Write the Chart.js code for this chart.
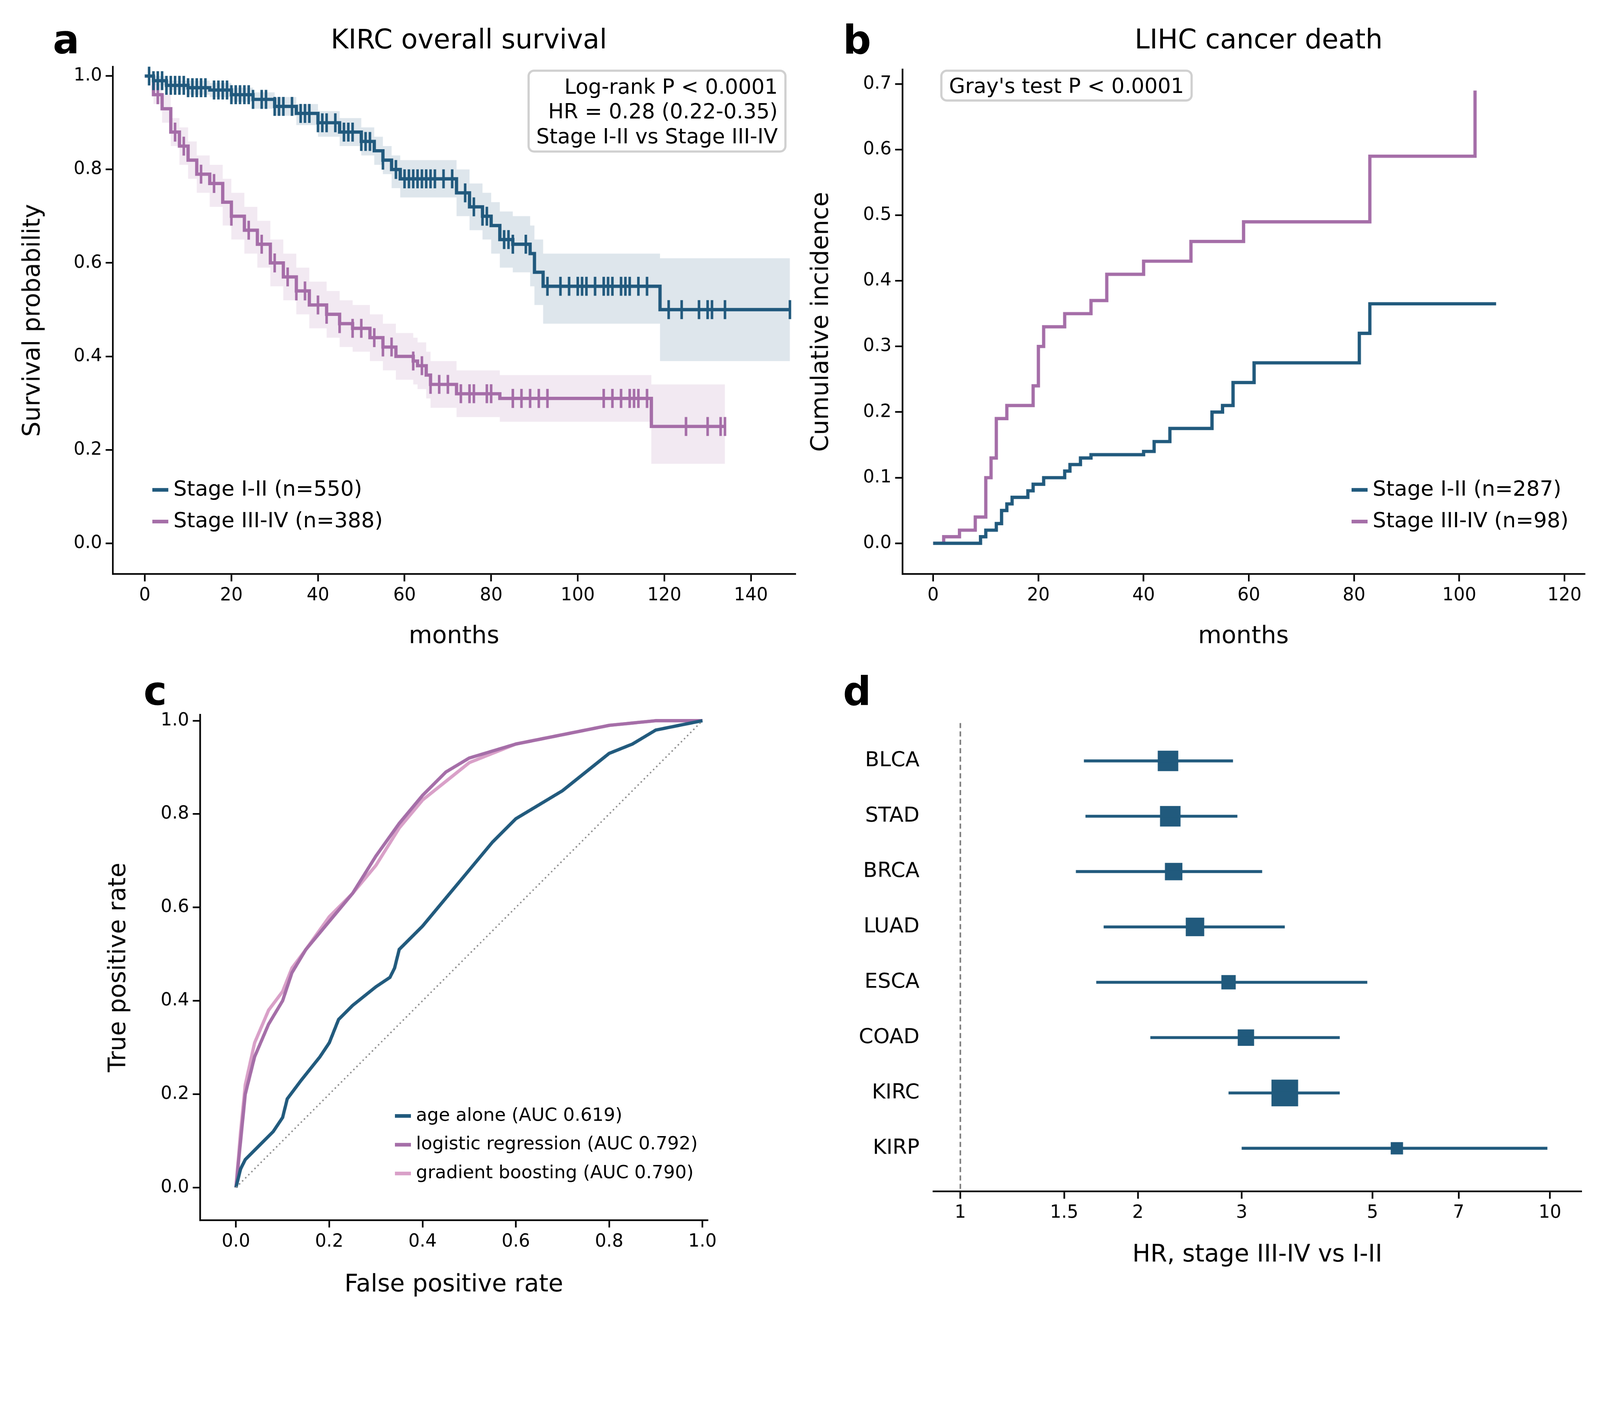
<!DOCTYPE html>
<html>
<head>
<meta charset="utf-8">
<script src="https://cdn.jsdelivr.net/npm/chart.js@4"></script>
<style>
  html, body { margin: 0; padding: 0; background: #fff; overflow: hidden; }
  #root { position: absolute; left: 0; top: 0; width: 4392px; height: 3613px; transform-origin: 0 0; font-family: "DejaVu Sans", sans-serif; }
  canvas { position: absolute; }
  .t { position: absolute; color: #000; white-space: nowrap; }
  .letter { font-weight: bold; font-size: 108px; line-height: 110px; }
  .title { font-size: 74px; line-height: 80px; transform: translateX(-50%); }
  .box { position: absolute; border: 6px solid #d0d0d0; border-radius: 18px; background: #fff; font-size: 57px; line-height: 68px; padding: 6px 18px; white-space: nowrap; }
  .leg { position: absolute; font-size: 58px; line-height: 87px; white-space: nowrap; }
  .leg span.sw { display: inline-block; width: 44px; height: 10px; margin-right: 14px; vertical-align: middle; }
  .legs { font-size: 50px; line-height: 79px; }
  .legs span.sw { width: 44px; height: 10px; }
</style>
</head>
<body>
<div id="root">
<canvas id="ca"></canvas>
<canvas id="cb"></canvas>
<canvas id="cc"></canvas>
<canvas id="cd"></canvas>

<div class="t letter" style="left:145px;top:55px">a</div>
<div class="t letter" style="left:2314px;top:55px">b</div>
<div class="t letter" style="left:394px;top:1843px">c</div>
<div class="t letter" style="left:2314px;top:1843px">d</div>
<div class="t title" style="left:1287px;top:67px">KIRC overall survival</div>
<div class="t title" style="left:3455px;top:67px">LIHC cancer death</div>

<div class="box" style="right:2233px;top:191px;text-align:right">Log-rank P &lt; 0.0001<br>HR = 0.28 (0.22-0.35)<br>Stage I-II vs Stage III-IV</div>
<div class="box" style="left:2581px;top:191px;padding:4px 18px">Gray's test P &lt; 0.0001</div>

<div class="leg" style="left:418px;top:1298px">
  <div><span class="sw" style="background:#215a7d"></span>Stage I-II (n=550)</div>
  <div><span class="sw" style="background:#a56ea8"></span>Stage III-IV (n=388)</div>
</div>
<div class="leg" style="left:3710px;top:1298px">
  <div><span class="sw" style="background:#215a7d"></span>Stage I-II (n=287)</div>
  <div><span class="sw" style="background:#a56ea8"></span>Stage III-IV (n=98)</div>
</div>
<div class="leg legs" style="left:1084px;top:3021px">
  <div><span class="sw" style="background:#215a7d"></span>age alone (AUC 0.619)</div>
  <div><span class="sw" style="background:#a56ea8"></span>logistic regression (AUC 0.792)</div>
  <div><span class="sw" style="background:#d9a0c8"></span>gradient boosting (AUC 0.790)</div>
</div>
</div>

<script>
// ---- panel a: KIRC Kaplan-Meier ----
const kmEarlyT = [0, 2, 5, 10, 15, 20, 25, 30, 35, 40, 45, 50, 53, 55, 57, 59, 70, 72, 75, 78, 80, 82, 85, 89, 90, 92, 118, 119, 149];
const kmEarlyS = [1.0, 0.99, 0.98, 0.975, 0.97, 0.96, 0.95, 0.935, 0.92, 0.90, 0.88, 0.86, 0.84, 0.82, 0.80, 0.78, 0.78, 0.75, 0.72, 0.70, 0.68, 0.65, 0.64, 0.62, 0.58, 0.55, 0.55, 0.50, 0.50];
const kmEarlyLo = [1.0, 0.98, 0.97, 0.96, 0.955, 0.945, 0.93, 0.915, 0.895, 0.87, 0.85, 0.83, 0.81, 0.79, 0.76, 0.74, 0.74, 0.70, 0.67, 0.65, 0.62, 0.59, 0.58, 0.55, 0.51, 0.47, 0.47, 0.39, 0.39];
const kmEarlyHi = [1.0, 1.0, 0.99, 0.99, 0.985, 0.975, 0.965, 0.955, 0.94, 0.925, 0.91, 0.89, 0.87, 0.85, 0.83, 0.82, 0.82, 0.80, 0.77, 0.75, 0.73, 0.71, 0.70, 0.68, 0.65, 0.62, 0.62, 0.61, 0.61];
const kmEarlyCens = [1, 2, 3, 4, 5, 6, 7, 8, 9, 10, 11, 12, 13, 14, 16, 17, 18, 19, 20, 21, 22, 23, 24, 25, 27, 28, 30, 31, 32, 34, 36, 37, 38, 40, 41, 42, 44, 46, 47, 48, 50, 51, 52, 55, 58, 60, 61, 62, 63, 64, 65, 66, 67, 69, 71, 74, 76, 78, 79, 83, 84, 85, 88, 93, 96, 98, 100, 101, 102, 104, 106, 107, 108, 110, 111, 112, 114, 116, 121, 124, 128, 130, 131, 134, 149];

const kmLateT = [0, 2, 4, 6, 8, 10, 12, 15, 18, 20, 23, 26, 29, 32, 35, 38, 42, 45, 48, 52, 55, 58, 62, 63, 65, 66, 70, 72, 80, 82, 116, 117, 134];
const kmLateS = [1.0, 0.96, 0.93, 0.88, 0.85, 0.82, 0.79, 0.77, 0.73, 0.70, 0.67, 0.64, 0.60, 0.57, 0.54, 0.51, 0.49, 0.47, 0.46, 0.44, 0.42, 0.40, 0.39, 0.38, 0.36, 0.34, 0.34, 0.32, 0.32, 0.31, 0.31, 0.25, 0.25];
const kmLateLo = [1.0, 0.94, 0.90, 0.85, 0.81, 0.78, 0.75, 0.72, 0.68, 0.65, 0.62, 0.59, 0.55, 0.52, 0.49, 0.46, 0.44, 0.42, 0.41, 0.39, 0.37, 0.35, 0.34, 0.33, 0.31, 0.29, 0.29, 0.27, 0.27, 0.26, 0.26, 0.17, 0.17];
const kmLateHi = [1.0, 0.98, 0.96, 0.91, 0.89, 0.86, 0.83, 0.81, 0.78, 0.75, 0.72, 0.69, 0.65, 0.62, 0.59, 0.56, 0.54, 0.52, 0.51, 0.49, 0.47, 0.45, 0.44, 0.43, 0.41, 0.39, 0.39, 0.37, 0.37, 0.36, 0.36, 0.34, 0.34];
const kmLateCens = [3, 7, 9, 13, 16, 20, 24, 27, 30, 33, 35, 37, 40, 42, 45, 48, 50, 53, 55, 57, 62, 64, 66, 68, 70, 73, 75, 76, 79, 80, 85, 87, 89, 91, 93, 106, 108, 110, 112, 113, 114, 116, 125, 130, 133, 134];

// ---- panel b: LIHC cumulative incidence ----
const ciEarlyT = [0, 9, 10, 12, 13, 14, 15, 18, 19, 21, 25, 26, 28, 30, 40, 42, 45, 53, 55, 57, 61, 81, 83, 107];
const ciEarlyV = [0, 0.01, 0.02, 0.03, 0.05, 0.06, 0.07, 0.08, 0.09, 0.10, 0.11, 0.12, 0.13, 0.135, 0.14, 0.155, 0.175, 0.20, 0.21, 0.245, 0.275, 0.32, 0.365, 0.365];
const ciLateT = [0, 2, 5, 8, 10, 11, 12, 14, 19, 20, 21, 25, 30, 33, 40, 49, 59, 83, 103];
const ciLateV = [0, 0.01, 0.02, 0.04, 0.10, 0.13, 0.19, 0.21, 0.24, 0.30, 0.33, 0.35, 0.37, 0.41, 0.43, 0.46, 0.49, 0.59, 0.69];

// ---- panel c: ROC ----
const rocAgeFpr = [0, 0.01, 0.02, 0.05, 0.08, 0.10, 0.11, 0.14, 0.18, 0.20, 0.22, 0.25, 0.30, 0.33, 0.34, 0.35, 0.40, 0.45, 0.50, 0.55, 0.60, 0.65, 0.70, 0.75, 0.80, 0.85, 0.90, 0.95, 1.0];
const rocAgeTpr = [0, 0.04, 0.06, 0.09, 0.12, 0.15, 0.19, 0.23, 0.28, 0.31, 0.36, 0.39, 0.43, 0.45, 0.47, 0.51, 0.56, 0.62, 0.68, 0.74, 0.79, 0.82, 0.85, 0.89, 0.93, 0.95, 0.98, 0.99, 1.0];
const rocLrFpr = [0, 0.01, 0.02, 0.04, 0.07, 0.10, 0.12, 0.15, 0.20, 0.25, 0.30, 0.35, 0.40, 0.45, 0.50, 0.60, 0.70, 0.80, 0.90, 1.0];
const rocLrTpr = [0, 0.10, 0.20, 0.28, 0.35, 0.40, 0.46, 0.51, 0.57, 0.63, 0.71, 0.78, 0.84, 0.89, 0.92, 0.95, 0.97, 0.99, 1.0, 1.0];
const rocGbFpr = [0, 0.01, 0.02, 0.04, 0.07, 0.10, 0.12, 0.15, 0.20, 0.25, 0.30, 0.35, 0.40, 0.45, 0.50, 0.60, 0.70, 0.80, 0.90, 1.0];
const rocGbTpr = [0, 0.12, 0.22, 0.31, 0.38, 0.42, 0.47, 0.51, 0.58, 0.63, 0.69, 0.77, 0.83, 0.87, 0.91, 0.95, 0.97, 0.99, 1.0, 1.0];

// ---- panel d: forest ----
const cancers = ['BLCA', 'STAD', 'BRCA', 'LUAD', 'ESCA', 'COAD', 'KIRC', 'KIRP'];
const hr = [2.25, 2.27, 2.3, 2.5, 2.85, 3.05, 3.55, 5.5];
const hrLo = [1.62, 1.63, 1.57, 1.75, 1.7, 2.1, 2.85, 3.0];
const hrHi = [2.9, 2.95, 3.25, 3.55, 4.9, 4.4, 4.4, 9.9];
const weight = [20, 20, 17, 18, 14, 16, 26, 12];
const hrTicks = [1, 1.5, 2, 3, 5, 7, 10];

const BLUE = '#215a7d', PURPLE = '#a56ea8', PINK = '#d9a0c8';
const FONT = 'DejaVu Sans';
const TICK = 49, ATITLE = 66, LW = 9;

// fit the 4392x3613 design into whatever css viewport we get
const S = window.innerWidth / 4392;
document.getElementById('root').style.transform = 'scale(' + S + ')';
const DPR = Math.max(1 / S, window.devicePixelRatio || 1);

function stepAt(ts, vs, t) {
  let v = vs[0];
  for (let i = 0; i < ts.length; i++) if (ts[i] <= t) v = vs[i];
  return v;
}
const pts = (xs, ys) => xs.map((x, i) => ({ x: x, y: ys[i] }));

function place(id, cl, ct, cw, ch) {
  const c = document.getElementById(id);
  c.style.left = cl + 'px'; c.style.top = ct + 'px';
  c.style.width = cw + 'px'; c.style.height = ch + 'px';
  c.width = cw; c.height = ch;
  return c;
}

function axis(extra, fitW, fitH) {
  const a = Object.assign({
    border: { display: true, color: '#000', width: 4.5 },
    grid: { drawOnChartArea: false, drawTicks: true, tickLength: 20, color: '#000', lineWidth: 4.5 },
    ticks: { color: '#000', font: { family: FONT, size: TICK }, padding: 10 },
  }, extra);
  if (fitW) a.afterFit = s => { s.width = fitW; };
  if (fitH) a.afterFit = s => { s.height = fitH; };
  return a;
}
const atitle = (t) => ({ display: true, text: t, color: '#000', font: { family: FONT, size: ATITLE }, padding: 2 });
const oneDec = { color: '#000', font: { family: FONT, size: TICK }, padding: 10, callback: v => v.toFixed(1) };

function base(padTop, padRight) {
  return {
    responsive: false, animation: false, devicePixelRatio: DPR,
    layout: { padding: { top: padTop, right: padRight, left: 0, bottom: 0 } },
    plugins: { legend: { display: false }, tooltip: { enabled: false } },
  };
}

function kmDatasets(ts, s, lo, hi, cens, col, fill) {
  return [
    { data: pts(ts, lo), stepped: 'before', borderWidth: 0, pointRadius: 0, fill: false },
    { data: pts(ts, hi), stepped: 'before', borderWidth: 0, pointRadius: 0, fill: '-1', backgroundColor: fill },
    { data: pts(ts, s), stepped: 'before', borderColor: col, borderWidth: LW, pointRadius: 0, fill: false },
    { type: 'scatter', data: cens.map(t => ({ x: t, y: stepAt(ts, s, t) })), pointStyle: 'line', rotation: 90,
      radius: 26, borderColor: col, borderWidth: 7 },
  ];
}

// panel a: chart area 310..2182 x 183..1576
{
  const cl = 50, ct = 0, cw = 2250, ch = 1790;
  place('ca', cl, ct, cw, ch);
  new Chart('ca', {
    type: 'line',
    data: { datasets: [
      ...kmDatasets(kmEarlyT, kmEarlyS, kmEarlyLo, kmEarlyHi, kmEarlyCens, BLUE, 'rgba(33,90,125,0.15)'),
      ...kmDatasets(kmLateT, kmLateS, kmLateLo, kmLateHi, kmLateCens, PURPLE, 'rgba(165,110,168,0.15)'),
    ] },
    options: Object.assign(base(183 - ct, cl + cw - 2182), {
      scales: {
        x: axis({ type: 'linear', min: -7.35, max: 150.2, title: atitle('months'),
          afterBuildTicks: a => { a.ticks = [0, 20, 40, 60, 80, 100, 120, 140].map(v => ({ value: v })); } }, null, ct + ch - 1576),
        y: axis({ type: 'linear', min: -0.066, max: 1.02, title: atitle('Survival probability'),
          afterBuildTicks: a => { a.ticks = [0, 0.2, 0.4, 0.6, 0.8, 1.0].map(v => ({ value: v })); },
          ticks: oneDec }, 310 - cl),
      },
    }),
  });
}

// panel b: chart area 2477..4349 x 191..1576
{
  const cl = 2214, ct = 0, cw = 2178, ch = 1790;
  place('cb', cl, ct, cw, ch);
  new Chart('cb', {
    type: 'line',
    data: { datasets: [
      { data: pts(ciEarlyT, ciEarlyV), stepped: 'before', borderColor: BLUE, borderWidth: LW, pointRadius: 0 },
      { data: pts(ciLateT, ciLateV), stepped: 'before', borderColor: PURPLE, borderWidth: LW, pointRadius: 0 },
    ] },
    options: Object.assign(base(191 - ct, cl + cw - 4349), {
      scales: {
        x: axis({ type: 'linear', min: -5.85, max: 123.8, title: atitle('months'),
          afterBuildTicks: a => { a.ticks = [0, 20, 40, 60, 80, 100, 120].map(v => ({ value: v })); } }, null, ct + ch - 1576),
        y: axis({ type: 'linear', min: -0.047, max: 0.722, title: atitle('Cumulative incidence'),
          afterBuildTicks: a => { a.ticks = [0, 0.1, 0.2, 0.3, 0.4, 0.5, 0.6, 0.7].map(v => ({ value: v })); },
          ticks: oneDec }, 2477 - cl),
      },
    }),
  });
}

// panel c: chart area 549..1942 x 1962..3350
{
  const cl = 285, ct = 1850, cw = 1915, ch = 3570 - 1850;
  place('cc', cl, ct, cw, ch);
  new Chart('cc', {
    type: 'line',
    data: { datasets: [
      { data: [{ x: 0, y: 0 }, { x: 1, y: 1 }], borderColor: '#888', borderWidth: 4, borderDash: [4, 8], pointRadius: 0 },
      { data: pts(rocAgeFpr, rocAgeTpr), borderColor: BLUE, borderWidth: LW, pointRadius: 0 },
      { data: pts(rocLrFpr, rocLrTpr), borderColor: PURPLE, borderWidth: LW, pointRadius: 0 },
      { data: pts(rocGbFpr, rocGbTpr), borderColor: PINK, borderWidth: LW, pointRadius: 0 },
    ] },
    options: Object.assign(base(1962 - ct, cl + cw - 1942), {
      scales: {
        x: axis({ type: 'linear', min: -0.077, max: 1.011, title: atitle('False positive rate'),
          afterBuildTicks: a => { a.ticks = [0, 0.2, 0.4, 0.6, 0.8, 1.0].map(v => ({ value: v })); },
          ticks: oneDec }, null, ct + ch - 3350),
        y: axis({ type: 'linear', min: -0.07, max: 1.013, title: atitle('True positive rate'),
          afterBuildTicks: a => { a.ticks = [0, 0.2, 0.4, 0.6, 0.8, 1.0].map(v => ({ value: v })); },
          ticks: oneDec }, 549 - cl),
      },
    }),
  });
}

// panel d: chart area 2562..4349 x 1985..3271
{
  const cl = 2200, ct = 1850, cw = 2192, ch = 3488 - 1850;
  place('cd', cl, ct, cw, ch);
  const bars = [];
  cancers.forEach((c, i) => { bars.push({ x: hrLo[i], y: i }, { x: hrHi[i], y: i }, { x: null, y: null }); });
  new Chart('cd', {
    type: 'line',
    data: { datasets: [
      { data: [{ x: 1, y: -0.685 }, { x: 1, y: 7.78 }], borderColor: '#777', borderWidth: 4, borderDash: [14, 9], pointRadius: 0 },
      { data: bars, borderColor: BLUE, borderWidth: 8, pointRadius: 0, spanGaps: false },
      { type: 'scatter', data: hr.map((h, i) => ({ x: h, y: i })), pointStyle: 'rect', backgroundColor: BLUE, borderColor: BLUE,
        borderWidth: 0, radius: weight.map(w => w * 2.815 / 1.414) },
    ] },
    options: Object.assign(base(1985 - ct, cl + cw - 4349), {
      scales: {
        x: axis({ type: 'logarithmic', min: 0.9, max: 11.3, title: atitle('HR, stage III-IV vs I-II'),
          afterBuildTicks: a => { a.ticks = hrTicks.map(v => ({ value: v })); },
          ticks: { color: '#000', font: { family: FONT, size: TICK }, padding: 10, autoSkip: false, maxRotation: 0, callback: v => String(v) } }, null, ct + ch - 3271),
        y: axis({ type: 'linear', reverse: true, min: -0.685, max: 7.78,
          border: { display: false },
          grid: { display: false },
          afterBuildTicks: a => { a.ticks = cancers.map((c, i) => ({ value: i })); },
          ticks: { color: '#000', font: { family: FONT, size: 57 }, padding: 30, callback: v => cancers[v] } }, 2562 - cl),
      },
    }),
  });
}
</script>
</body>
</html>
